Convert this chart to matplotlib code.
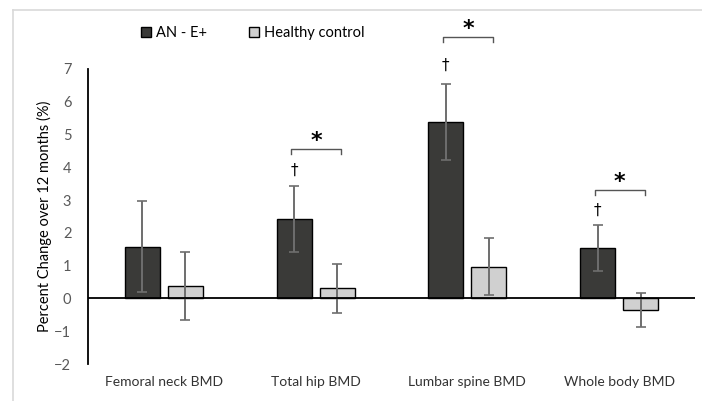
import numpy as np
import matplotlib
matplotlib.use("Agg")
import matplotlib.pyplot as plt
from matplotlib.lines import Line2D

# values
categories = ['Femoral neck BMD', 'Total hip BMD', 'Lumbar spine BMD', 'Whole body BMD']
an_vals = [1.58, 2.43, 5.38, 1.55]
an_err = [1.38, 1.01, 1.16, 0.70]
hc_vals = [0.37, 0.31, 0.97, -0.35]
hc_err = [1.04, 0.74, 0.87, 0.53]
yticks = [-2, -1, 0, 1, 2, 3, 4, 5, 6, 7]

# significance marks: dagger above AN bar, bracket + asterisk between groups
dagger_idx = [1, 2, 3]
dagger_y = [3.9, 7.1, 2.7]
bracket_idx = [1, 2, 3]
bracket_y = [4.56, 7.98, 3.30]

plt.rcParams['font.family'] = ['Lato', 'DejaVu Sans']

fig = plt.figure(figsize=(7.02, 4.01), dpi=100)
ax = fig.add_axes([88 / 702, 1 - 364 / 401, 607 / 702, 295 / 401])

x = np.arange(len(categories))
w = 0.23
off = 0.142
ekw = dict(ecolor='#6e6e6e', elinewidth=1.4, capsize=3.5, capthick=1.2)
ax.bar(x - off, an_vals, w, color='#3a3a38', edgecolor='black', linewidth=1.0,
       yerr=an_err, error_kw=ekw, label='AN - E+', zorder=2)
ax.bar(x + off, hc_vals, w, color='#d0d0d0', edgecolor='black', linewidth=1.0,
       yerr=hc_err, error_kw=ekw, label='Healthy control', zorder=2)

ax.axhline(0, color='black', lw=1.3, zorder=3)

for i, yy in zip(dagger_idx, dagger_y):
    ax.text(x[i] - off, yy, '\u2020', ha='center', va='center', fontsize=11,
            family='DejaVu Sans', color='black')

for i, yy in zip(bracket_idx, bracket_y):
    x0, x1 = x[i] - 0.16, x[i] + 0.17
    ax.plot([x0, x0, x1, x1], [yy - 0.15, yy, yy, yy - 0.15], color='#555555',
            lw=1.0, clip_on=False)
    ax.text((x0 + x1) / 2, yy - 0.05, '*', ha='center', va='bottom', fontsize=16,
            family='DejaVu Sans', weight='bold', color='black', clip_on=False)

ax.set_xlim(-0.5, 3.5)
ax.set_ylim(-2, 7)
ax.set_yticks(yticks)
ax.set_xticks(x)
ax.set_xticklabels(categories, fontsize=10, color='#333333')
ax.tick_params(axis='y', length=0, labelsize=10.5, labelcolor='#595959', pad=12)
ax.tick_params(axis='x', length=0, pad=9)
for s in ['top', 'right', 'bottom']:
    ax.spines[s].set_visible(False)
ax.spines['left'].set_color('black')
ax.spines['left'].set_linewidth(1.3)

ax.set_ylabel('Percent Change over 12 months (%)', fontsize=10.5, color='black', labelpad=2)

ax.legend(loc='center left', bbox_to_anchor=(0.066, 1.122), ncol=2, frameon=False,
          fontsize=10.5, handlelength=0.7, handleheight=0.7, handletextpad=0.3,
          columnspacing=2.9)

# light frame of the original chart area
fig.add_artist(Line2D([13 / 702, 1], [1 - 10 / 401] * 2, color='#d9d9d9', lw=1.2))
fig.add_artist(Line2D([13 / 702] * 2, [0, 1 - 10 / 401], color='#d9d9d9', lw=1.2))

fig.savefig('out.png', dpi=100)
